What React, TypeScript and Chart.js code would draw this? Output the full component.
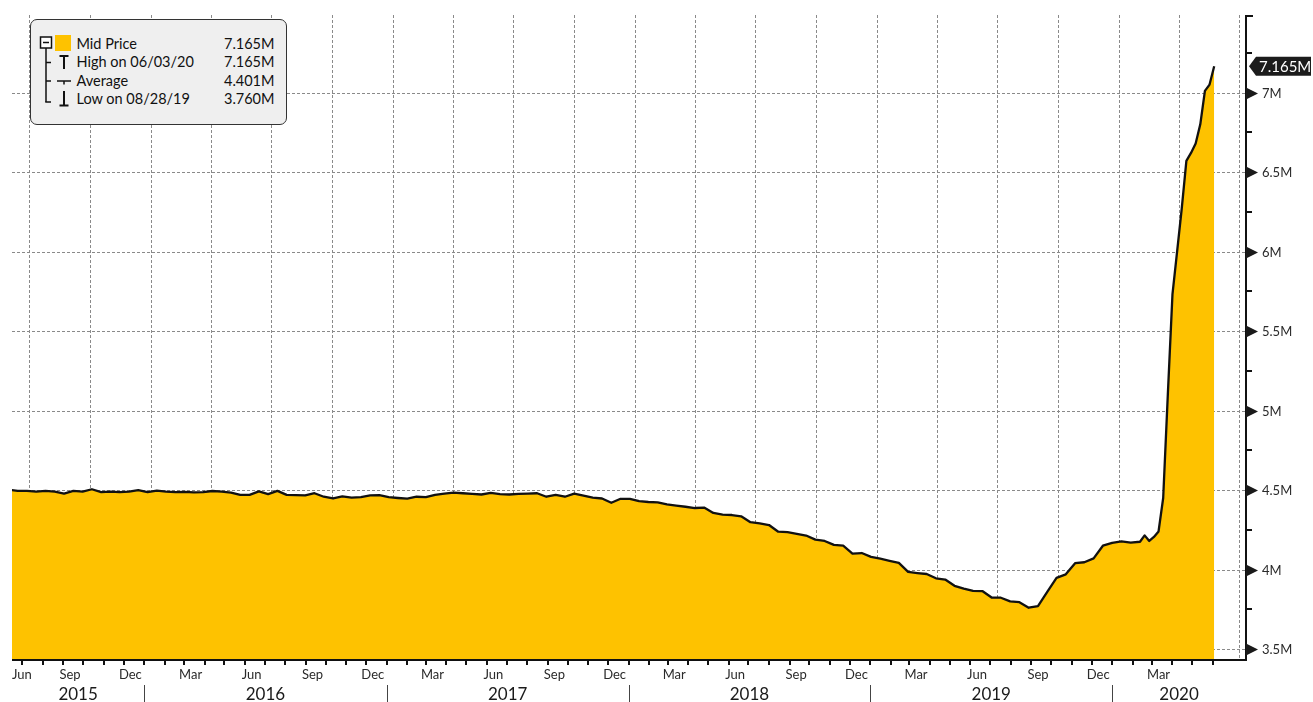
import React, { useEffect, useRef } from 'react';
import { Chart, registerables } from 'chart.js';

Chart.register(...registerables);

// ---- Data (Mid Price, in millions) ----
const dates: string[] = [
  '2015-06-15', '2015-06-24', '2015-07-08', '2015-07-22', '2015-08-05', '2015-08-19', '2015-09-02', '2015-09-16',
  '2015-09-30', '2015-10-14', '2015-10-28', '2015-11-11', '2015-11-25', '2015-12-09', '2015-12-23',
  '2016-01-06', '2016-01-20', '2016-02-03', '2016-02-17', '2016-03-02', '2016-03-16', '2016-03-30', '2016-04-13',
  '2016-04-27', '2016-05-11', '2016-05-25', '2016-06-08', '2016-06-22', '2016-07-06', '2016-07-20', '2016-08-03',
  '2016-08-17', '2016-08-31', '2016-09-14', '2016-09-28', '2016-10-12', '2016-10-26', '2016-11-09', '2016-11-23',
  '2016-12-07', '2016-12-21',
  '2017-01-04', '2017-01-18', '2017-02-01', '2017-02-15', '2017-03-01', '2017-03-15', '2017-03-29', '2017-04-12',
  '2017-04-26', '2017-05-10', '2017-05-24', '2017-06-07', '2017-06-21', '2017-07-05', '2017-07-19', '2017-08-02',
  '2017-08-16', '2017-08-30', '2017-09-13', '2017-09-27', '2017-10-11', '2017-10-25', '2017-11-08', '2017-11-22',
  '2017-12-06', '2017-12-20',
  '2018-01-03', '2018-01-17', '2018-01-31', '2018-02-14', '2018-02-28', '2018-03-14', '2018-03-28', '2018-04-11',
  '2018-04-25', '2018-05-09', '2018-05-23', '2018-06-06', '2018-06-20', '2018-07-04', '2018-07-18', '2018-08-01',
  '2018-08-15', '2018-08-29', '2018-09-12', '2018-09-26', '2018-10-10', '2018-10-24', '2018-11-07', '2018-11-21',
  '2018-12-05', '2018-12-19',
  '2019-01-02', '2019-01-16', '2019-01-30', '2019-02-13', '2019-02-27', '2019-03-13', '2019-03-27', '2019-04-10',
  '2019-04-24', '2019-05-08', '2019-05-22', '2019-06-05', '2019-06-19', '2019-07-03', '2019-07-17', '2019-07-31',
  '2019-08-14', '2019-08-28', '2019-09-11', '2019-09-25', '2019-10-09', '2019-10-23', '2019-11-06', '2019-11-20',
  '2019-12-04', '2019-12-18',
  '2020-01-01', '2020-01-15', '2020-01-29', '2020-02-12', '2020-02-19', '2020-02-26', '2020-03-04', '2020-03-11',
  '2020-03-18', '2020-03-25', '2020-04-01', '2020-04-08', '2020-04-15', '2020-04-22', '2020-04-29', '2020-05-06',
  '2020-05-13', '2020-05-20', '2020-05-27', '2020-06-03',
];

const midPrice: number[] = [
  4.500, 4.495, 4.495, 4.490, 4.495, 4.490, 4.478, 4.495,
  4.490, 4.505, 4.487, 4.490, 4.487, 4.490, 4.500,
  4.487, 4.497, 4.490, 4.487, 4.489, 4.486, 4.487, 4.494,
  4.490, 4.484, 4.470, 4.470, 4.492, 4.474, 4.495, 4.470,
  4.468, 4.466, 4.480, 4.458, 4.447, 4.460, 4.452, 4.456,
  4.466, 4.468,
  4.455, 4.450, 4.446, 4.458, 4.456, 4.470, 4.478, 4.484,
  4.480, 4.476, 4.472, 4.482, 4.474, 4.472, 4.476, 4.478,
  4.480, 4.458, 4.470, 4.458, 4.478, 4.465, 4.452, 4.447,
  4.420, 4.445,
  4.445, 4.430, 4.425, 4.423, 4.410, 4.402, 4.395, 4.387,
  4.390, 4.356, 4.346, 4.343, 4.335, 4.298, 4.290, 4.280,
  4.238, 4.235, 4.225, 4.214, 4.188, 4.180, 4.155, 4.150,
  4.100, 4.104,
  4.080, 4.068, 4.055, 4.042, 3.985, 3.978, 3.972, 3.945,
  3.937, 3.898, 3.880, 3.866, 3.865, 3.824, 3.823, 3.800,
  3.795, 3.760, 3.770, 3.860, 3.948, 3.970, 4.040, 4.046,
  4.070, 4.150,
  4.168, 4.177, 4.170, 4.175, 4.215, 4.180, 4.205, 4.240,
  4.450, 5.100, 5.730, 6.000, 6.270, 6.570, 6.620, 6.680,
  6.800, 7.010, 7.050, 7.165,
];

const yMajorTicks: number[] = [3.5, 4, 4.5, 5, 5.5, 6, 6.5, 7];
const yMajorLabels: string[] = ['3.5M', '4M', '4.5M', '5M', '5.5M', '6M', '6.5M', '7M'];
const yMinorTicks: number[] = [3.75, 4.25, 4.75, 5.25, 5.75, 6.25, 6.75, 7.25];
const monthNames: string[] = ['Jan', 'Feb', 'Mar', 'Apr', 'May', 'Jun', 'Jul', 'Aug', 'Sep', 'Oct', 'Nov', 'Dec'];
const labeledMonths: number[] = [2, 5, 8, 11];
const gridMonths: number[] = [0, 3, 6, 9];
const years: number[] = [2015, 2016, 2017, 2018, 2019, 2020];

const legendNames: string[] = ['Mid Price', 'High on 06/03/20', 'Average', 'Low on 08/28/19'];
const legendValues: string[] = ['7.165M', '7.165M', '4.401M', '3.760M'];
const lastValueLabel = '7.165M';

const Y_MIN = 3.43125;
const Y_MAX = 7.4875;

const FILL = '#FEC200';
const FONT = 'Lato, "Open Sans", sans-serif';

const EPOCH = Date.UTC(2015, 0, 1);
const DAY = 86400000;
const dayOf = (y: number, m: number, d: number) => (Date.UTC(y, m, d) - EPOCH) / DAY;
const toDay = (s: string) => {
  const [y, m, d] = s.split('-').map(Number);
  return dayOf(y, m - 1, d);
};

const X_MIN = toDay('2015-06-15') + 0.4;
const X_MAX = toDay('2020-07-21');

const axesPlugin = {
  id: 'bbgAxes',
  beforeDatasetsDraw(chart: any) {
    const { ctx, chartArea: a, scales } = chart;
    const x = scales.x;
    const y = scales.y;
    ctx.save();
    ctx.strokeStyle = '#8a8a8a';
    ctx.lineWidth = 1;
    ctx.setLineDash([3, 2]);
    for (const v of yMajorTicks) {
      const py = Math.round(y.getPixelForValue(v)) + 0.5;
      ctx.beginPath();
      ctx.moveTo(a.left, py);
      ctx.lineTo(a.right, py);
      ctx.stroke();
    }
    for (const yr of years) {
      for (const m of gridMonths) {
        const d = dayOf(yr, m, 11);
        if (d <= X_MIN || d >= X_MAX) continue;
        const px = Math.round(x.getPixelForValue(d)) + 0.5;
        ctx.beginPath();
        ctx.moveTo(px, a.top);
        ctx.lineTo(px, a.bottom);
        ctx.stroke();
      }
    }
    ctx.restore();
  },
  afterDatasetsDraw(chart: any) {
    const { ctx, chartArea: a, scales } = chart;
    const x = scales.x;
    const y = scales.y;
    const lastDay = toDay(dates[dates.length - 1]);
    const firstDay = toDay(dates[0]);
    ctx.save();
    ctx.fillStyle = '#111';
    // bottom axis line
    ctx.fillRect(a.left, a.bottom - 1, a.right - a.left + 1, 2);
    // right axis line
    ctx.fillRect(a.right - 1, a.top, 2, a.bottom - a.top + 1);
    // top bracket tick
    ctx.fillRect(a.right - 1, a.top, 8, 2);
    // minor y ticks
    for (const v of yMinorTicks) {
      const py = Math.round(y.getPixelForValue(v));
      ctx.fillRect(a.right, py - 1, 6, 2);
    }
    // major y ticks (triangles) + labels
    ctx.font = `13px ${FONT}`;
    ctx.textBaseline = 'middle';
    ctx.textAlign = 'left';
    yMajorTicks.forEach((v, i) => {
      const py = Math.round(y.getPixelForValue(v)) + 0.5;
      ctx.fillStyle = '#1a1a1a';
      ctx.beginPath();
      ctx.moveTo(a.right, py - 6);
      ctx.lineTo(a.right + 12, py);
      ctx.lineTo(a.right, py + 6);
      ctx.closePath();
      ctx.fill();
      ctx.fillStyle = '#2a2a2a';
      ctx.fillText(yMajorLabels[i], a.right + 16, py);
    });
    // month ticks
    ctx.fillStyle = '#111';
    for (const yr of years) {
      for (let m = 0; m < 12; m++) {
        const d = dayOf(yr, m, 1);
        if (d <= X_MIN || d > lastDay) continue;
        const px = Math.round(x.getPixelForValue(d));
        ctx.fillRect(px - 1, a.bottom, 2, 5);
      }
    }
    // month labels
    ctx.font = `13px ${FONT}`;
    ctx.fillStyle = '#2a2a2a';
    ctx.textAlign = 'left';
    for (const yr of years) {
      for (const m of labeledMonths) {
        const d = dayOf(yr, m, 11);
        if (d < firstDay - 5 || d > lastDay) continue;
        const txt = monthNames[m];
        const w = ctx.measureText(txt).width;
        let left = x.getPixelForValue(d) - w / 2;
        if (left < a.left) left = a.left;
        ctx.fillText(txt, left, a.bottom + 15);
      }
    }
    // year labels and separators
    ctx.font = `17px ${FONT}`;
    ctx.textAlign = 'center';
    years.forEach((yr) => {
      const s = Math.max(dayOf(yr, 0, 1), X_MIN);
      const e = Math.min(dayOf(yr + 1, 0, 1), X_MAX);
      const cx = (x.getPixelForValue(s) + x.getPixelForValue(e)) / 2;
      ctx.fillStyle = '#1a1a1a';
      ctx.fillText(String(yr), cx, a.bottom + 35);
      const sep = dayOf(yr, 0, 1);
      if (sep > X_MIN && sep < X_MAX) {
        const px = Math.round(x.getPixelForValue(sep)) + 0.5;
        ctx.strokeStyle = '#444';
        ctx.lineWidth = 1;
        ctx.beginPath();
        ctx.moveTo(px, a.bottom + 25);
        ctx.lineTo(px, a.bottom + 42);
        ctx.stroke();
      }
    });
    // last value box
    const lv = midPrice[midPrice.length - 1];
    const ly = y.getPixelForValue(lv);
    const bx = a.right + 3;
    ctx.fillStyle = '#1c1c1c';
    ctx.beginPath();
    ctx.moveTo(bx, ly);
    ctx.lineTo(bx + 7, ly - 9.5);
    ctx.lineTo(1311, ly - 9.5);
    ctx.lineTo(1311, ly + 9.5);
    ctx.lineTo(bx + 7, ly + 9.5);
    ctx.closePath();
    ctx.fill();
    ctx.font = `15px ${FONT}`;
    ctx.fillStyle = '#ffffff';
    ctx.textAlign = 'left';
    ctx.textBaseline = 'middle';
    ctx.fillText(lastValueLabel, bx + 10, ly + 0.5);
    ctx.restore();
  },
};

function Legend() {
  const rowY = [44, 62.5, 81, 99];
  return (
    <div
      style={{
        position: 'absolute',
        left: 30,
        top: 19,
        width: 257,
        height: 106,
        boxSizing: 'border-box',
        border: '1.5px solid #333',
        borderRadius: 7,
        background: '#efefef',
        fontFamily: FONT,
      }}
    >
      <svg width={257} height={106} style={{ position: 'absolute', left: -1.5, top: -1.5 }}>
        <rect x={10.5} y={18} width={11} height={11} fill="#fff" stroke="#111" strokeWidth={1.5} />
        <line x1={13} y1={23.5} x2={19} y2={23.5} stroke="#111" strokeWidth={1.5} />
        <rect x={25} y={16} width={16} height={16} fill={FILL} />
        <line x1={16} y1={29} x2={16} y2={83} stroke="#111" strokeWidth={1.5} />
        <line x1={16} y1={43.5} x2={21} y2={43.5} stroke="#111" strokeWidth={1.5} />
        <line x1={16} y1={62} x2={21} y2={62} stroke="#111" strokeWidth={1.5} />
        <line x1={15.25} y1={83} x2={21} y2={83} stroke="#111" strokeWidth={1.5} />
        <line x1={29.5} y1={37} x2={38.5} y2={37} stroke="#111" strokeWidth={2} />
        <line x1={34} y1={37} x2={34} y2={50} stroke="#111" strokeWidth={2} />
        <line x1={27} y1={62} x2={41} y2={62} stroke="#111" strokeWidth={1.5} />
        <line x1={34} y1={62} x2={34} y2={65.5} stroke="#111" strokeWidth={1.5} />
        <line x1={34} y1={72} x2={34} y2={86} stroke="#111" strokeWidth={2} />
        <line x1={29.5} y1={86.5} x2={38.5} y2={86.5} stroke="#111" strokeWidth={2} />
      </svg>
      {legendNames.map((name, i) => (
        <div
          key={name}
          style={{
            position: 'absolute',
            left: 77 - 31.5,
            top: rowY[i] - 9 - 20.5,
            height: 18,
            lineHeight: '18px',
            fontSize: 14.5,
            color: '#111',
            whiteSpace: 'nowrap',
          }}
        >
          {name}
        </div>
      ))}
      {legendValues.map((v, i) => (
        <div
          key={i}
          style={{
            position: 'absolute',
            left: 190 - 31.5,
            width: 85,
            top: rowY[i] - 9 - 20.5,
            height: 18,
            lineHeight: '18px',
            fontSize: 14.5,
            color: '#111',
            textAlign: 'right',
            whiteSpace: 'nowrap',
          }}
        >
          {v}
        </div>
      ))}
    </div>
  );
}

export default function App() {
  const canvasRef = useRef<HTMLCanvasElement | null>(null);

  useEffect(() => {
    const canvas = canvasRef.current;
    if (!canvas) return;
    const points = dates.map((d, i) => ({ x: toDay(d), y: midPrice[i] }));
    const chart = new Chart(canvas, {
      type: 'line',
      data: {
        datasets: [
          {
            label: 'Mid Price',
            data: points,
            borderColor: '#111',
            borderWidth: 2.3,
            backgroundColor: FILL,
            fill: 'start',
            pointRadius: 0,
            tension: 0,
            borderJoinStyle: 'round',
          } as any,
        ],
      },
      options: {
        animation: false,
        responsive: false,
        devicePixelRatio: 1,
        events: [],
        layout: { padding: { left: 12, top: 15, right: 67, bottom: 42 } },
        plugins: { legend: { display: false }, tooltip: { enabled: false } },
        scales: {
          x: { type: 'linear', min: X_MIN, max: X_MAX, display: false },
          y: { type: 'linear', min: Y_MIN, max: Y_MAX, display: false },
        },
      } as any,
      plugins: [axesPlugin as any],
    });
    return () => chart.destroy();
  }, []);

  return (
    <div style={{ position: 'absolute', left: 0, top: 0, width: 1313, height: 702, background: '#fff', overflow: 'hidden' }}>
      <canvas ref={canvasRef} width={1313} height={702} style={{ display: 'block', width: 1313, height: 702 }} />
      <Legend />
    </div>
  );
}
